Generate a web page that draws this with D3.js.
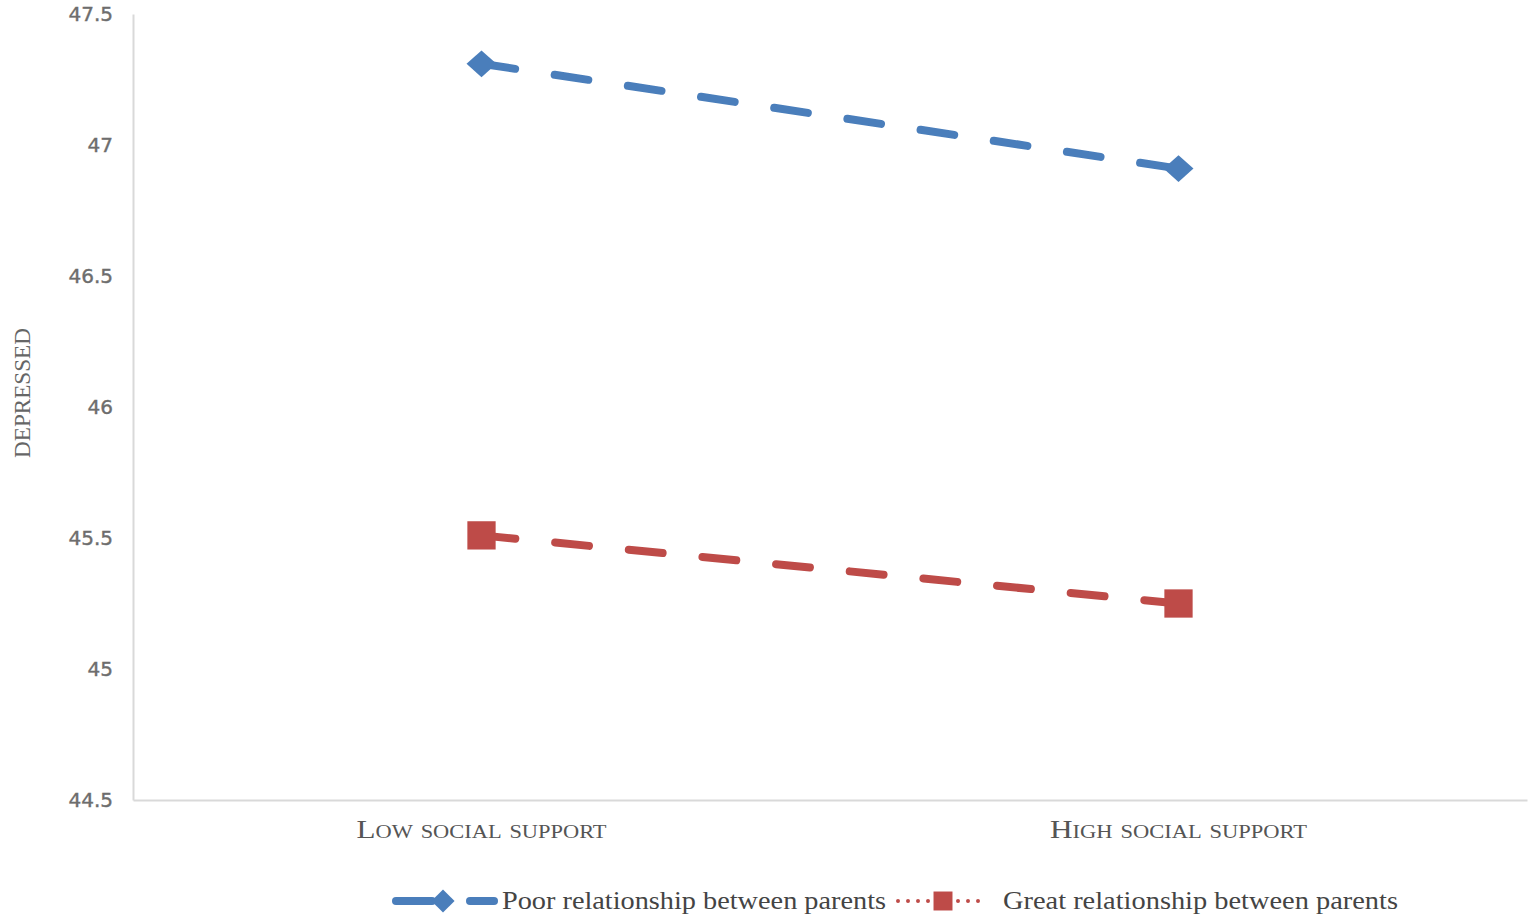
<!DOCTYPE html>
<html>
<head>
  <meta charset="UTF-8">
  <title></title>
  <style>
    body{ margin:0; background:#fff; }
    .tick text{ font-family: 'DejaVu Sans', Verdana, sans-serif; font-size:20px; fill:#6d6d6d; stroke:#6d6d6d; stroke-width:0.4px; }
    .xaxis .tick text{ font-family: 'Liberation Serif', serif; font-variant: small-caps; font-size:25px; fill:#555; stroke:none; }
    .legend text{ font-family: 'Liberation Serif', serif; font-size:25px; fill:#444; }
  </style>
</head>
<body>
  <script src="https://d3js.org/d3.v7.min.js"></script>
  <script>
    var categories = ["Low social support", "High social support"];
    var seriesNames = ["Poor relationship between parents", "Great relationship between parents"];
    var poorValues = [47.31, 46.91];
    var greatValues = [45.51, 45.25];
    var yTicks = [44.5, 45, 45.5, 46, 46.5, 47, 47.5];
    var colors = ["#4a7ebb", "#be4b48"];

    var width = 1535, height = 924;
    var margin = {top: 14, right: 8, bottom: 124, left: 133};

    var svg = d3.select("body").append("svg")
      .attr("width", width).attr("height", height);

    var x = d3.scaleBand().domain(categories)
      .range([margin.left, width - margin.right]);
    var y = d3.scaleLinear().domain([44.5, 47.5])
      .range([height - margin.bottom, margin.top]);

    // y axis
    var ya = svg.append("g").attr("class", "yaxis")
      .attr("transform", "translate(" + margin.left + ",0)")
      .call(d3.axisLeft(y).tickValues(yTicks).tickSize(0).tickPadding(20)
        .tickFormat(function(d){ return String(d); }));
    ya.select(".domain").attr("stroke", "#d9d9d9").attr("stroke-width", 2);

    // x axis
    var labelWidths = [250, 257];
    var xa = svg.append("g").attr("class", "xaxis")
      .attr("transform", "translate(0," + (height - margin.bottom) + ")")
      .call(d3.axisBottom(x).tickSize(0).tickPadding(20));
    xa.select(".domain").attr("stroke", "#d9d9d9").attr("stroke-width", 2);
    xa.selectAll(".tick text").attr("dy", "0.71em")
      .attr("textLength", function(d, i){ return labelWidths[i]; })
      .attr("lengthAdjust", "spacingAndGlyphs");

    svg.append("text")
      .attr("transform", "translate(30," + 393 + ") rotate(-90)")
      .attr("text-anchor", "middle")
      .style("font-family", "'Liberation Serif', serif")
      .style("font-size", "24px")
      .style("fill", "#666")
      .attr("textLength", 130)
      .attr("lengthAdjust", "spacingAndGlyphs")
      .text("DEPRESSED");

    var line = d3.line()
      .x(function(d, i){ return x(categories[i]) + x.bandwidth() / 2; })
      .y(function(d){ return y(d); });

    var diamond = d3.symbol().type(d3.symbolDiamond).size(420);
    var square = d3.symbol().type(d3.symbolSquare).size(800);

    [poorValues, greatValues].forEach(function(vals, s) {
      svg.append("path")
        .attr("d", line(vals))
        .attr("fill", "none")
        .attr("stroke", colors[s])
        .attr("stroke-width", 8)
        .attr("stroke-linecap", "round")
        .attr("stroke-dasharray", "34,40");

      svg.selectAll(".m" + s).data(vals).enter().append("path")
        .attr("class", "m" + s)
        .attr("transform", function(d, i){
          var t = "translate(" + (x(categories[i]) + x.bandwidth() / 2) + "," + y(d) + ")";
          return s === 0 ? t + " scale(1.36,0.7)" : t;
        })
        .attr("d", s === 0 ? diamond : square)
        .attr("fill", colors[s]);
    });

    // legend
    var lg = svg.append("g").attr("class", "legend");
    var ly = 901;
    lg.append("line").attr("x1", 396).attr("x2", 432).attr("y1", ly).attr("y2", ly)
      .attr("stroke", colors[0]).attr("stroke-width", 8).attr("stroke-linecap", "round");
    lg.append("line").attr("x1", 470).attr("x2", 494).attr("y1", ly).attr("y2", ly)
      .attr("stroke", colors[0]).attr("stroke-width", 8).attr("stroke-linecap", "round");
    lg.append("path").attr("transform", "translate(443," + ly + ") scale(1.05,0.6)")
      .attr("d", diamond).attr("fill", colors[0]);
    lg.append("text").attr("x", 502).attr("y", ly + 8)
      .attr("textLength", 384).attr("lengthAdjust", "spacingAndGlyphs")
      .text(seriesNames[0]);

    lg.append("line").attr("x1", 898).attr("x2", 988).attr("y1", ly).attr("y2", ly)
      .attr("stroke", colors[1]).attr("stroke-width", 4).attr("stroke-linecap", "round")
      .attr("stroke-dasharray", "0,10");
    lg.append("path").attr("transform", "translate(943," + ly + ")")
      .attr("d", d3.symbol().type(d3.symbolSquare).size(360)).attr("fill", colors[1]);
    lg.append("text").attr("x", 1003).attr("y", ly + 8)
      .attr("textLength", 395).attr("lengthAdjust", "spacingAndGlyphs")
      .text(seriesNames[1]);
  </script>
</body>
</html>
